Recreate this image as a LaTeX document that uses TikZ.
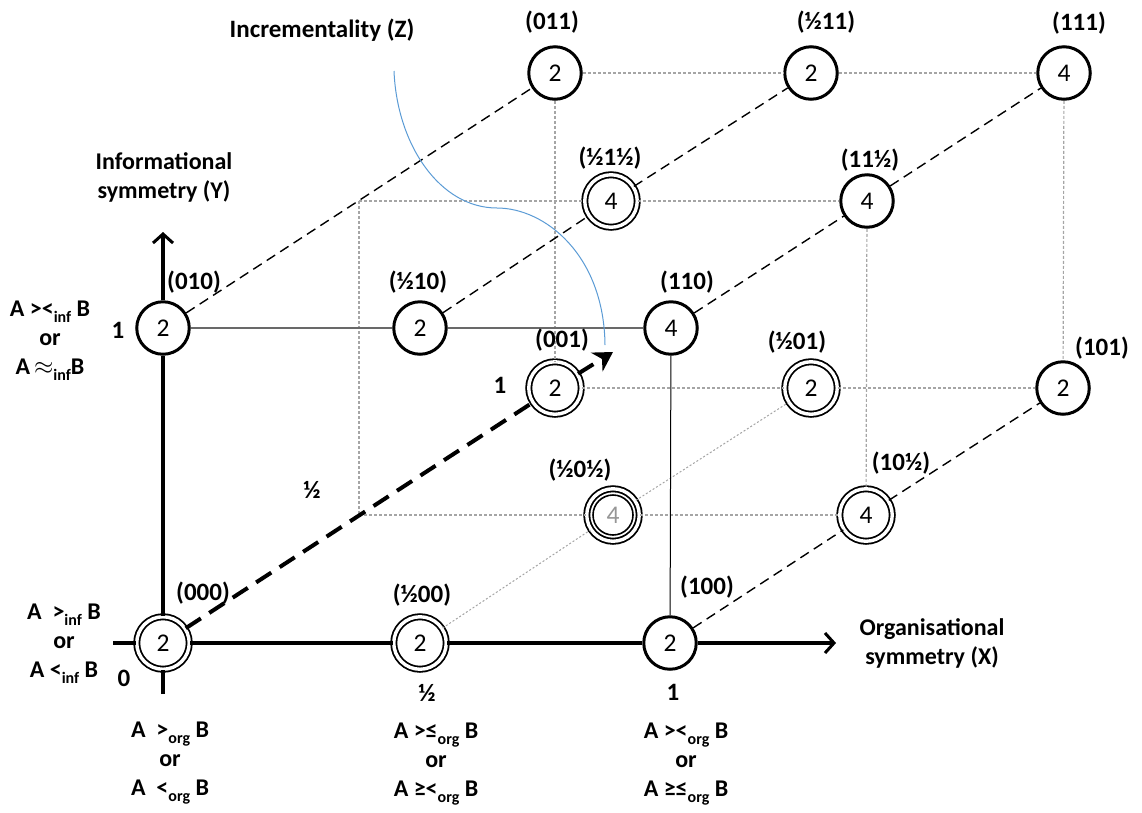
\documentclass[tikz,border=0pt]{standalone}
\usepackage{fontspec}
\setmainfont{Carlito}
\usetikzlibrary{arrows.meta}
\definecolor{curveblue}{RGB}{91,155,213}
\definecolor{gridgray}{RGB}{165,165,165}
\definecolor{edgegray}{RGB}{105,105,105}
\definecolor{fadedigit}{RGB}{150,150,150}
% lowered subscript used in the relation labels
\newcommand\lowsub[1]{\raisebox{-6pt}{\fontsize{16}{16}\selectfont #1}}

\begin{document}
\begin{tikzpicture}[x=1pt,y=-1pt,
  vertex/.style={circle, fill=white, minimum size=52.5pt, inner sep=0pt,
    font=\fontsize{25.5}{25.5}\selectfont},
  single/.style={vertex, draw, line width=3pt},
  twin/.style={vertex, draw, line width=1.8pt, double=white, double distance=3.4pt},
  tag/.style={font=\bfseries\fontsize{25}{28}\selectfont, inner sep=0pt},
  rel/.style={font=\bfseries\fontsize{24}{29}\selectfont, inner sep=0pt, align=center},
  axis/.style={line width=3.5pt},
  axistip/.style={-{Straight Barb[length=9pt,width=20pt,line width=3pt]}},
  zedge/.style={dash pattern=on 10pt off 6pt, line width=1.4pt},
  grid/.style={gridgray, dash pattern=on 3pt off 2pt, line width=1.2pt},
  faint/.style={gridgray, dash pattern=on 2pt off 2pt, line width=1pt},
  zaxis/.style={line width=4pt, dash pattern=on 18pt off 10pt,
    -{Stealth[length=19pt,width=22pt,inset=6pt]}},
]
\path[use as bounding box] (0,0) rectangle (1142,812);

% ---- vertices of the cube ----
\node[twin]   (n000) at (163,643) {2};
\node[twin]   (nh00) at (420,643) {2};
\node[single] (n100) at (670,643) {2};
\node[single] (n010) at (163,328) {2};
\node[single] (nh10) at (420,328) {2};
\node[single] (n110) at (671,328) {4};
\node[twin]   (n001) at (555,388) {2};
\node[twin]   (nh01) at (811,388) {2};
\node[single] (n101) at (1063,388) {2};
\node[single] (n011) at (555,73) {2};
\node[single] (nh11) at (811,73) {2};
\node[single] (n111) at (1064,73) {4};
\node[twin]   (nh0h) at (613,515) {\textcolor{fadedigit}{4}};
\node[twin]   (n10h) at (866,515) {4};
\node[twin]   (nh1h) at (611,201) {4};
\node[single] (n11h) at (867,201) {4};
\draw[line width=1.6pt] (nh0h.center) circle[radius=20pt];

\coordinate (c00h) at (359,515);
\coordinate (c01h) at (359,201);

% ---- back grid (dotted) ----
\draw[grid] (n011) -- (nh11);
\draw[grid] (nh11) -- (n111);
\draw[grid] (n111) -- (n101);
\draw[grid] (n011) -- (n001);
\draw[grid] (n001) -- (nh01);
\draw[grid] (nh01) -- (n101);
\draw[grid] (c01h) -- (nh1h);
\draw[grid] (nh1h) -- (n11h);
\draw[grid] (c01h) -- (c00h);
\draw[grid] (c00h) -- (nh0h);
\draw[grid] (nh0h) -- (n10h);
\draw[grid] (n11h) -- (n10h);
\draw[faint] (nh00) -- (nh0h);
\draw[faint] (nh0h) -- (nh01);

% ---- edges along Z (dashed) ----
\draw[zedge] (n010) -- (n011);
\draw[zedge] (nh10) -- (nh1h);
\draw[zedge] (nh1h) -- (nh11);
\draw[zedge] (n110) -- (n11h);
\draw[zedge] (n11h) -- (n111);
\draw[zedge] (n100) -- (n10h);
\draw[zedge] (n10h) -- (n101);

% ---- front face ----
\draw[edgegray, line width=1.5pt] (n010) -- (nh10);
\draw[edgegray, line width=1.5pt] (nh10) -- (n110);
\draw[line width=1pt] (n110) -- (n100);

% ---- axes ----
\coordinate (xl) at (113,643);
\coordinate (xr) at (836,643);
\coordinate (yb) at (163,694);
\coordinate (yt) at (163,232);
\coordinate (zt) at (613,352);
\draw[axis] (xl) -- (n000);
\draw[axis] (n000) -- (nh00);
\draw[axis] (nh00) -- (n100);
\draw[axis, axistip] (n100) -- (xr);
\draw[axis] (yb) -- (n000);
\draw[axis] (n000) -- (n010);
\draw[axis, axistip] (n010) -- (yt);
\draw[zaxis, -] (n000) -- (n001);
\draw[zaxis] (n001) -- (zt);

% ---- incrementality curve ----
\coordinate (cs) at (394,71);
\coordinate (cm) at (497,208);
\coordinate (ce) at (605,345);
\draw[curveblue, line width=1pt] (cs) .. controls (397,145) and (440,208) .. (cm)
  .. controls (545,208) and (604,255) .. (ce);

% ---- vertex tags ----
\node[tag] (l000) at (203,593) {(000)};
\node[tag] (lh00) at (422,595) {(½00)};
\node[tag] (l100) at (707,587) {(100)};
\node[tag] (l010) at (194,282) {(010)};
\node[tag] (lh10) at (418,282) {(½10)};
\node[tag] (l110) at (687,282) {(110)};
\node[tag] (l001) at (562,340) {(001)};
\node[tag] (lh01) at (797,342) {(½01)};
\node[tag] (l101) at (1102,348) {(101)};
\node[tag] (l011) at (552,22) {(011)};
\node[tag] (lh11) at (826,22) {(½11)};
\node[tag] (l111) at (1079,23) {(111)};
\node[tag] (lh0h) at (580,470) {(½0½)};
\node[tag] (l10h) at (901,463) {(10½)};
\node[tag] (lh1h) at (610,158) {(½1½)};
\node[tag] (l11h) at (870,160) {(11½)};

% ---- axis values ----
\node[tag] (v0)   at (124,678) {0};
\node[tag] (vxh)  at (427,693) {½};
\node[tag] (vx1)  at (673,692) {1};
\node[tag] (vy1)  at (118,330) {1};
\node[tag] (vzh)  at (312,490) {½};
\node[tag] (vz1)  at (500,385) {1};

% ---- axis titles ----
\node[rel] (ty) at (164,177) {Informational\\symmetry (Y)};
\node[rel] (tx) at (932,643) {Organisational\\symmetry (X)};
\node[tag] (tz) at (322,30) {Incrementality (Z)};

% ---- relation labels ----
\node[rel] (ry1) at (50,341) {A ><\lowsub{inf} B\\or\\A\,$\approx$\lowsub{inf}B};
\node[rel] (ry0) at (64,644) {A~ >\lowsub{inf} B\\or\\A <\lowsub{inf} B};
\node[rel] (rx0) at (170,763) {A~ >\lowsub{org} B\\or\\A~ <\lowsub{org} B};
\node[rel] (rxh) at (436,764) {A >≤\lowsub{org} B\\or\\A ≥<\lowsub{org} B};
\node[rel] (rx1) at (686,764) {A ><\lowsub{org} B\\or\\A ≥≤\lowsub{org} B};
\end{tikzpicture}
\end{document}
